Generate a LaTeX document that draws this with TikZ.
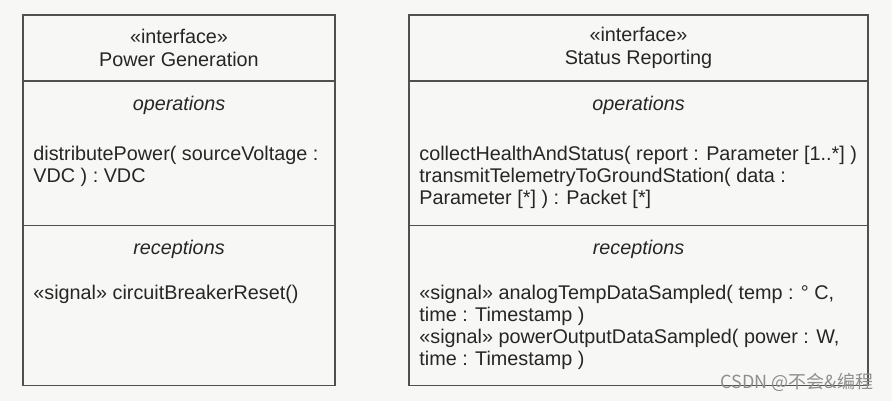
\documentclass[tikz,border=0pt]{standalone}
\usepackage{fontspec}
\setmainfont{Liberation Sans}
\newfontfamily\cjkfont{Noto Sans CJK SC}
\usepackage{xcolor}
\usepackage{tikz}
\usetikzlibrary{positioning}
\definecolor{ink}{HTML}{262626}
\definecolor{rulegray}{HTML}{505050}
\definecolor{paper}{HTML}{F7F7F5}
\definecolor{wmgray}{HTML}{8E8E8E}
\tikzset{
  comp/.style={rectangle,draw=rulegray,line width=0.9pt,inner sep=0pt,outer sep=0pt,anchor=north west},
  head/.style={comp,align=center,font=\fontsize{9.9}{11.6}\selectfont,text=ink},
  clbl/.style={font=\fontsize{9.9}{11.4}\selectfont\itshape,text=ink,inner sep=0pt},
  body/.style={font=\fontsize{9.9}{11}\selectfont,text=ink,align=left,inner sep=0pt},
  wm/.style={font=\cjkfont\fontsize{9}{10}\selectfont,text=wmgray,inner sep=0pt},
}
\begin{document}
\begin{tikzpicture}[x=0.5pt,y=-0.5pt]
  \fill[paper] (0,0) rectangle (892,401);
  \useasboundingbox (0,0) rectangle (892,401);
  % left interface
  \node[head,minimum width=156pt,minimum height=33pt] (pgHead) at (23,15) {«interface»\\Power Generation};
  \node[comp,minimum width=156pt,minimum height=72.25pt] (pgOps) at (pgHead.south west) {};
  \node[comp,minimum width=156pt,minimum height=80pt] (pgRecv) at (pgOps.south west) {};
  \node[clbl,below=7.3pt of pgOps.north] (pgOpsLbl) {operations};
  \node[clbl,below=7.3pt of pgRecv.north] (pgRecvLbl) {receptions};
  \node[body,below right=32.2pt and 5pt of pgOps.north west] (pgOpsTxt) {distributePower( sourceVoltage :\\VDC ) : VDC};
  \node[body,below right=29.8pt and 5pt of pgRecv.north west] (pgRecvTxt) {«signal» circuitBreakerReset()};
  % right interface
  \node[head,minimum width=229.5pt,minimum height=33pt] (srHead) at (409,15) {«interface»\\Status Reporting};
  \node[comp,minimum width=229.5pt,minimum height=72.25pt] (srOps) at (srHead.south west) {};
  \node[comp,minimum width=229.5pt,minimum height=80pt] (srRecv) at (srOps.south west) {};
  \node[clbl,below=7.3pt of srOps.north] (srOpsLbl) {operations};
  \node[clbl,below=7.3pt of srRecv.north] (srRecvLbl) {receptions};
  \node[body,below right=32.2pt and 5pt of srOps.north west] (srOpsTxt) {collectHealthAndStatus( report : Parameter [1..*] )\\transmitTelemetryToGroundStation( data :\\Parameter [*] ) : Packet [*]};
  \node[body,below right=29.8pt and 5pt of srRecv.north west] (srRecvTxt) {«signal» analogTempDataSampled( temp : ° C,\\time : Timestamp )\\«signal» powerOutputDataSampled( power : W,\\time : Timestamp )};
  \node[wm] (mark) at (797,382) {CSDN @不会\&编程};
\end{tikzpicture}
\end{document}
